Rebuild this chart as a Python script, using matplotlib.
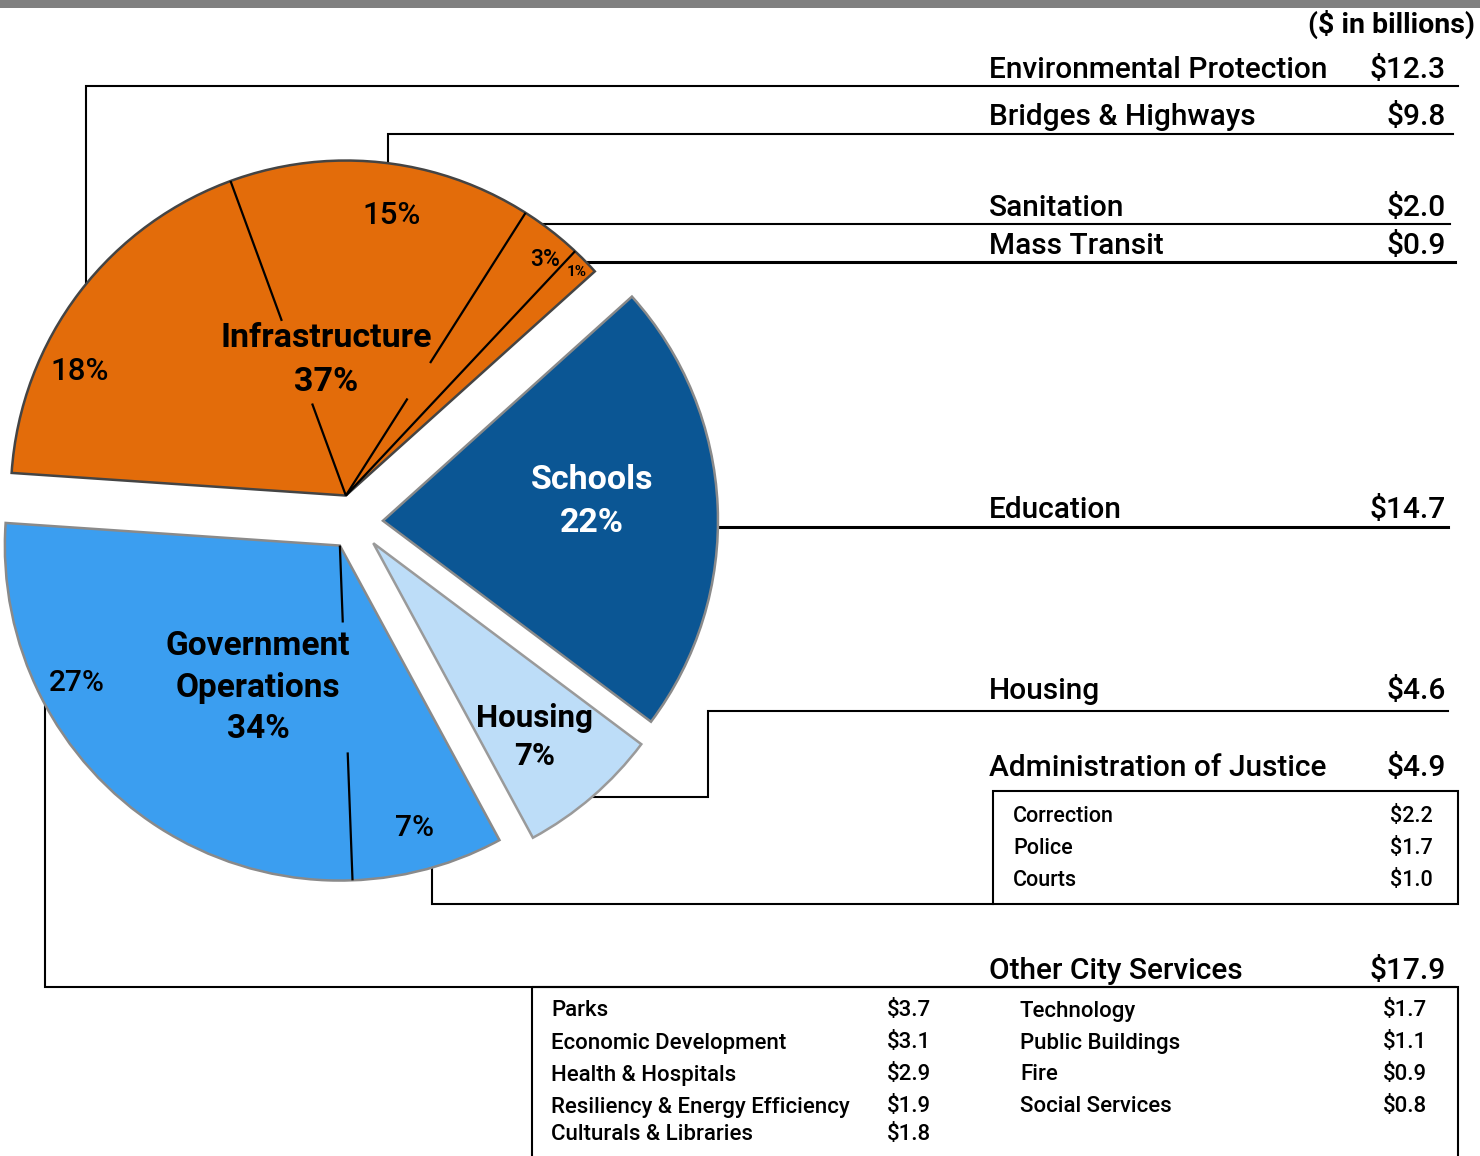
import numpy as np
import matplotlib.pyplot as plt
from matplotlib.patches import Rectangle

plt.rcParams['font.family'] = ['Roboto', 'DejaVu Sans']

# capital commitments by function, $ in billions
infra_names = ['Mass Transit', 'Sanitation', 'Bridges & Highways', 'Environmental Protection']
infra_vals = [0.9, 2.0, 9.8, 12.3]
govops_names = ['Other City Services', 'Administration of Justice']
govops_vals = [17.9, 4.9]
housing_val = 4.6
schools_val = 14.7

justice_names = ['Correction', 'Police', 'Courts']
justice_vals = [2.2, 1.7, 1.0]
other_left_names = ['Parks', 'Economic Development', 'Health & Hospitals',
                    'Resiliency & Energy Efficiency', 'Culturals & Libraries']
other_left_vals = [3.7, 3.1, 2.9, 1.9, 1.8]
other_right_names = ['Technology', 'Public Buildings', 'Fire', 'Social Services']
other_right_vals = [1.7, 1.1, 0.9, 0.8]

group_vals = [sum(infra_vals), sum(govops_vals), housing_val, schools_val]
total = sum(group_vals)

W, H = 1480, 1156
fig = plt.figure(figsize=(W / 100, H / 100), dpi=100)
ax = fig.add_axes([0, 0, 1, 1])

def pct(v):
    return '%d%%' % round(v / total * 100)

def money(v):
    return '$%.1f' % v

# pie drawn in a y-down pixel frame, so the angles run the other way
start = 42.0
colors = ['#E36C0A', '#3B9EF0', '#BDDDF8', '#0B5694']
edges = ['#444444', '#8a8a8a', '#9a9a9a', '#8a8a8a']
wedges, _ = ax.pie(group_vals, startangle=-start, counterclock=False,
                   center=(355, 522), radius=335, explode=[28] * 4,
                   colors=colors, wedgeprops=dict(linewidth=1.8))
for w, ec in zip(wedges, edges):
    w.set_edgecolor(ec)
    w.set_zorder(2)

ax.set_xlim(0, W)
ax.set_ylim(H, 0)
ax.set_aspect('equal')
ax.axis('off')

def spoke(w, ang, spans):
    cx, cy = w.center
    a = np.deg2rad(ang)
    for r0, r1 in spans:
        ax.plot([cx + r0 * np.cos(a), cx + r1 * np.cos(a)],
                [cy - r0 * np.sin(a), cy - r1 * np.sin(a)],
                color='black', lw=1.6, solid_capstyle='butt', zorder=3)

# sub-divisions inside infrastructure and government operations
infra_cuts = start + np.cumsum(infra_vals)[:-1] / total * 360
infra_spans = [[(0, 335)], [(0, 115), (157, 335)], [(0, 98), (186, 335)]]
for ang, sp in zip(infra_cuts, infra_spans):
    spoke(wedges[0], ang, sp)
gov_cut = start + (group_vals[0] + govops_vals[0]) / total * 360
spoke(wedges[1], gov_cut, [(0, 77), (207, 335)])

# leader lines to the labels on the right
leaders = [
    ([86, 86, 1458], [300, 86, 86], 1.5),
    ([388, 388, 1453], [180, 134, 134], 1.5),
    ([530, 1450], [224, 224], 1.5),
    ([575, 1455], [262, 262], 2.2),
    ([700, 1448], [527, 527], 2.2),
    ([1448, 708, 708, 580], [711, 711, 797, 797], 1.5),
    ([432, 432, 993], [860, 904, 904], 1.5),
    ([45, 45, 1455], [680, 987, 987], 1.5),
]
for xs, ys, lw in leaders:
    ax.plot(xs, ys, color='black', lw=lw, zorder=1, solid_joinstyle='miter')

ax.add_patch(Rectangle((993, 791), 465, 113, fill=False, ec='black', lw=1.5, zorder=1))
ax.add_patch(Rectangle((532, 987), 926, 200, fill=False, ec='black', lw=1.5, zorder=1))

# grey band across the top
ax.add_patch(Rectangle((0, 0), W, 8, color='#808080', lw=0, zorder=1))

ax.text(1475, 24, '($ in billions)', ha='right', va='center', fontsize=20.5,
        fontweight='bold')

# right-hand labels
right_rows = [
    (infra_names[3], infra_vals[3], 70),
    (infra_names[2], infra_vals[2], 117),
    (infra_names[1], infra_vals[1], 208),
    (infra_names[0], infra_vals[0], 246),
    ('Education', schools_val, 510),
    ('Housing', housing_val, 691),
    (govops_names[1], govops_vals[1], 768),
    (govops_names[0], govops_vals[0], 971),
]
for name, val, y in right_rows:
    ax.text(989, y, name, ha='left', va='center', fontsize=21.5, fontweight='medium')
    ax.text(1446, y, money(val), ha='right', va='center', fontsize=21.5, fontweight='medium')

for i, (name, val) in enumerate(zip(justice_names, justice_vals)):
    y = 816 + 32 * i
    ax.text(1013, y, name, ha='left', va='center', fontsize=15.5, fontweight='medium')
    ax.text(1433, y, money(val), ha='right', va='center', fontsize=15.5, fontweight='medium')

left_ys = [1011, 1043, 1075, 1107, 1134]
for (name, val), y in zip(zip(other_left_names, other_left_vals), left_ys):
    ax.text(551, y, name, ha='left', va='center', fontsize=16, fontweight='medium')
    ax.text(931, y, money(val), ha='right', va='center', fontsize=16, fontweight='medium')
for (name, val), y in zip(zip(other_right_names, other_right_vals), left_ys):
    ax.text(1020, y, name, ha='left', va='center', fontsize=16, fontweight='medium')
    ax.text(1427, y, money(val), ha='right', va='center', fontsize=16, fontweight='medium')

# slice percentages
small = [
    (infra_vals[2], 392, 216, 22.5, 'medium'),
    (infra_vals[3], 80, 372, 22.5, 'medium'),
    (infra_vals[1], 545, 259, 16.5, 'medium'),
    (infra_vals[0], 577, 272, 11, 'bold'),
    (govops_vals[0], 77, 683, 21.5, 'medium'),
    (govops_vals[1], 414, 828, 21.5, 'medium'),
]
for v, x, y, fs, fw in small:
    ax.text(x, y, pct(v), ha='center', va='center', fontsize=fs, fontweight=fw, zorder=4)

big = [
    (['Infrastructure', pct(group_vals[0])], 326, [338, 382], 24.5, 'black'),
    (['Schools', pct(schools_val)], 592, [480, 523], 24.5, 'white'),
    (['Government', 'Operations', pct(group_vals[1])], 258, [646, 688, 729], 24, 'black'),
    (['Housing', pct(housing_val)], 535, [718, 756], 22.5, 'black'),
]
for lines, x, ys, fs, c in big:
    for s, y in zip(lines, ys):
        ax.text(x, y, s, ha='center', va='center', fontsize=fs, fontweight='bold',
                color=c, zorder=4)

fig.savefig('out.png', dpi=100)
